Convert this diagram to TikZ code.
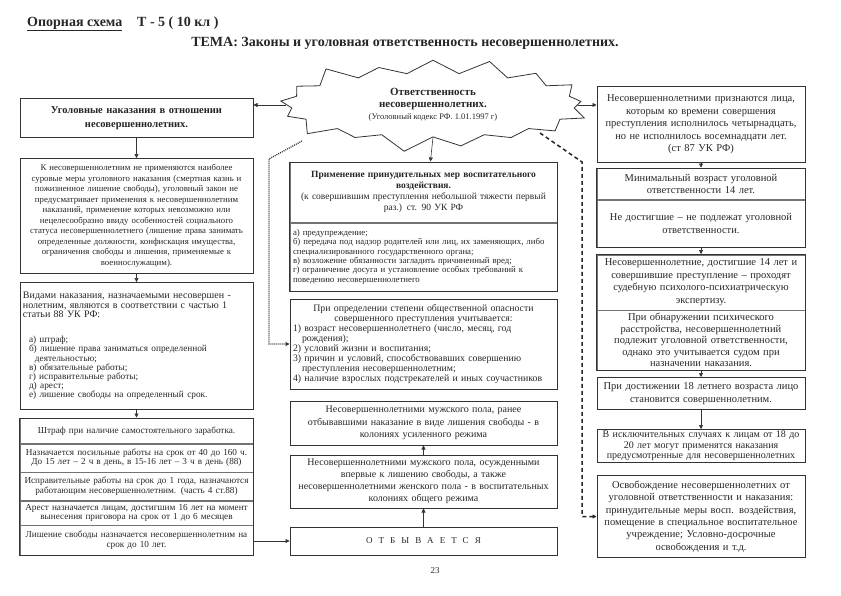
\documentclass[tikz,border=0pt]{standalone}
\usepackage{fontspec}
\setmainfont{Liberation Serif}
\usetikzlibrary{arrows.meta,positioning,fit,shapes.symbols}
\newcommand{\fsz}[2]{\fontsize{#1}{#2}\selectfont}

\begin{document}
\begin{tikzpicture}[x=1pt,y=-1pt,
  font=\fsz{9}{10},text=black!85,
  node distance=8pt,
  box/.style={draw=black!80,line width=1pt,align=center,inner xsep=3pt,inner ysep=1.5pt},
  cell/.style={draw=black!55,line width=0.5pt,align=center,inner xsep=3pt,inner ysep=1.5pt},
  frame/.style={draw=black!80,line width=1pt,inner sep=0pt},
  lcol/.style={text width=227pt},
  mcol/.style={text width=261pt},
  rcol/.style={text width=202pt,font=\fsz{10.5}{12.5}},
  title/.style={font=\bfseries\fsz{14}{16},inner sep=0pt},
  burst/.style={starburst,draw=black!80,line width=0.8pt,starburst points=17,
                starburst point height=18pt,align=center,inner xsep=36pt,inner ysep=6pt},
  ar/.style={-{Triangle[length=4pt,width=4pt]},black!80,line width=0.6pt},
  dotline/.style={black!80,line width=1.3pt,dash pattern=on 1pt off 1pt,
                  -{Triangle[length=4pt,width=4pt]}},
  dashline/.style={black!85,line width=1.5pt,dash pattern=on 4pt off 3pt,
                   -{Triangle[length=4pt,width=4pt]}}]
\useasboundingbox (0,0) rectangle (841,595);
\node[title,anchor=base west] (scheme) at (27,26) {\underline{Опорная схема}};
\node[title,anchor=base west] (grade) at (137,26) {Т - 5 ( 10 кл )};
\node[title,anchor=base] (theme) at (405,46) {ТЕМА: Законы и уголовная ответственность несовершеннолетних.};
% centre column
\node[burst,font=\fsz{8.5}{12}] (resp) at (433,105)
  {\textbf{\fsz{11}{12}Ответственность}\\\textbf{\fsz{11}{12}несовершеннолетних.}\\(Уголовный кодекс РФ. 1.01.1997 г)};
\node[cell,mcol,minimum height=60pt,anchor=north,font=\fsz{9.5}{11}] (M1a) at (423.5,162)
  {\textbf{Применение принудительных мер воспитательного}\\\textbf{воздействия.}\\(к совершившим преступления небольшой тяжести первый\\раз.) ст. 90 УК РФ};
\node[cell,mcol,align=left,minimum height=68pt,below=0pt of M1a,font=\fsz{8.8}{9.4}] (M1b)
  {а) предупреждение;\\б) передача под надзор родителей или лиц, их заменяющих, либо\\специализированного государственного органа;\\в) возложение обязанности загладить причиненный вред;\\г) ограничение досуга и установление особых требований к\\поведению несовершеннолетнего};
\node[frame,fit=(M1a)(M1b)] (M1) {};
\node[box,mcol,align=left,minimum height=90pt,below=7pt of M1,font=\fsz{9.8}{10}] (M2)
  {{\centering При определении степени общественной опасности\\совершенного преступления учитывается:\par}
   1) возраст несовершеннолетнего (число, месяц, год\\\hspace*{9pt}рождения);\\2) условий жизни и воспитания;\\3) причин и условий, способствовавших совершению\\\hspace*{9pt}преступления несовершеннолетним;\\4) наличие взрослых подстрекателей и иных соучастников};
\node[box,mcol,minimum height=44pt,below=11pt of M2,font=\fsz{10}{12.5}] (M3)
  {Несовершеннолетними мужского пола, ранее\\отбывавшими наказание в виде лишения свободы - в\\колониях усиленного режима};
\node[box,mcol,minimum height=53pt,below=9pt of M3,font=\fsz{10}{12}] (M4)
  {Несовершеннолетними мужского пола, осужденными\\впервые к лишению свободы, а также\\несовершеннолетними женского пола - в воспитательных\\колониях общего режима};
\node[box,mcol,minimum height=28pt,below=18pt of M4] (M5) {О\ \ Т\ \ Б\ \ Ы\ \ В\ \ А\ \ Е\ \ Т\ \ С\ \ Я};
% left column
\node[box,lcol,minimum height=39pt,anchor=north,font=\bfseries\fsz{10.5}{14}] (L1) at (136.5,98)
  {Уголовные наказания в отношении\\несовершеннолетних.};
\node[box,lcol,minimum height=115pt,below=20pt of L1,font=\fsz{8.8}{10.5}] (L2)
  {К несовершеннолетним не применяются наиболее\\суровые меры уголовного наказания (смертная казнь и\\пожизненное лишение свободы), уголовный закон не\\предусматривает применения к несовершеннолетним\\наказаний, применение которых невозможно или\\нецелесообразно ввиду особенностей социального\\статуса несовершеннолетнего (лишение права занимать\\определенные должности, конфискация имущества,\\ограничения свободы и лишения, применяемые к\\военнослужащим).};
\node[box,lcol,align=left,minimum height=127pt,below=of L2,font=\fsz{10}{9.6}] (L3)
  {Видами наказания, назначаемыми несовершен -\\нолетним, являются в соответствии с частью 1\\статьи 88 УК РФ:\par\vspace{16pt}
   \fsz{9.3}{9.1}\hspace*{6pt}а) штраф;\\\hspace*{6pt}б) лишение права заниматься определенной\\\hspace*{12pt}деятельностью;\\\hspace*{6pt}в) обязательные работы;\\\hspace*{6pt}г) исправительные работы;\\\hspace*{6pt}д) арест;\\\hspace*{6pt}е) лишение свободы на определенный срок.};
\node[cell,lcol,minimum height=25pt,below=of L3,font=\fsz{9.2}{9.5}] (L4a)
  {Штраф при наличие самостоятельного заработка.};
\node[cell,lcol,minimum height=28pt,below=0pt of L4a,font=\fsz{9.2}{9.5}] (L4b)
  {Назначается посильные работы на срок от 40 до 160 ч.\\До 15 лет – 2 ч в день, в 15-16 лет – 3 ч в день (88)};
\node[cell,lcol,minimum height=28pt,below=0pt of L4b,font=\fsz{9.2}{9.5}] (L4c)
  {Исправительные работы на срок до 1 года, назначаются\\работающим несовершеннолетним. (часть 4 ст.88)};
\node[cell,lcol,minimum height=24pt,below=0pt of L4c,font=\fsz{9.2}{9.5}] (L4d)
  {Арест назначается лицам, достигшим 16 лет на момент\\вынесения приговора на срок от 1 до 6 месяцев};
\node[cell,lcol,minimum height=30pt,below=0pt of L4d,font=\fsz{9.2}{9.5}] (L4e)
  {Лишение свободы назначается несовершеннолетним на\\срок до 10 лет.};
\node[frame,fit=(L4a)(L4e)] (L4) {};
% right column
\node[box,rcol,minimum height=76pt,anchor=north] (R1) at (701,86)
  {Несовершеннолетними признаются лица,\\которым ко времени совершения\\преступления исполнилось четырнадцать,\\но не исполнилось восемнадцати лет.\\(ст 87 УК РФ)};
\node[cell,rcol,minimum height=31pt,below=5pt of R1] (R2a)
  {Минимальный возраст уголовной\\ответственности 14 лет.};
\node[cell,rcol,minimum height=47pt,below=0pt of R2a] (R2b)
  {Не достигшие – не подлежат уголовной\\ответственности.};
\node[frame,fit=(R2a)(R2b)] (R2) {};
\node[cell,rcol,minimum height=55pt,below=7pt of R2] (R3a)
  {Несовершеннолетние, достигшие 14 лет и\\совершившие преступление – проходят\\судебную психолого-психиатрическую\\экспертизу.};
\node[cell,rcol,minimum height=60pt,below=0pt of R3a,font=\fsz{10.5}{11.5},inner ysep=1pt] (R3b)
  {При обнаружении психического\\расстройства, несовершеннолетний\\подлежит уголовной ответственности,\\однако это учитывается судом при\\назначении наказания.};
\node[frame,fit=(R3a)(R3b)] (R3) {};
\node[box,rcol,minimum height=32pt,below=6pt of R3] (R4)
  {При достижении 18 летнего возраста лицо\\становится совершеннолетним.};
\node[box,rcol,minimum height=33pt,below=19pt of R4,font=\fsz{10}{10.5},inner ysep=1pt] (R5)
  {В исключительных случаях к лицам от 18 до\\20 лет могут применятся наказания\\предусмотренные для несовершеннолетних};
\node[box,rcol,minimum height=82pt,below=12pt of R5,font=\fsz{10.5}{12.3}] (R6)
  {Освобождение несовершеннолетних от\\уголовной ответственности и наказания:\\принудительные меры восп. воздействия,\\помещение в специальное воспитательное\\учреждение; Условно-досрочные\\освобождения и т.д.};
\node[font=\fsz{9}{10}] (page) at (435,571) {23};
\draw[ar] (L1) -- (L2); \draw[ar] (L2) -- (L3); \draw[ar] (L3) -- (L4);
\draw[ar] (resp.south) -- (M1);
\draw[ar] (M5) -- (M4); \draw[ar] (M4) -- (M3);
\draw[ar] (R1) -- (R2); \draw[ar] (R2) -- (R3); \draw[ar] (R3) -- (R4); \draw[ar] (R4) -- (R5);
\draw[ar] (resp.west) -- (resp.west -| L1.east);
\draw[ar] (resp.east) -- (resp.east -| R1.west);
\draw[ar] (L4.east |- M5.west) -- (M5.west);
\coordinate (dotstart) at (302,141);
\coordinate (dashstart) at (540,133);
\draw[dotline] (dotstart) -- ++(-33,18) |- (M2.west);
\draw[dashline] (dashstart) -- ++(42,29) |- (R6.west);
\end{tikzpicture}
\end{document}
